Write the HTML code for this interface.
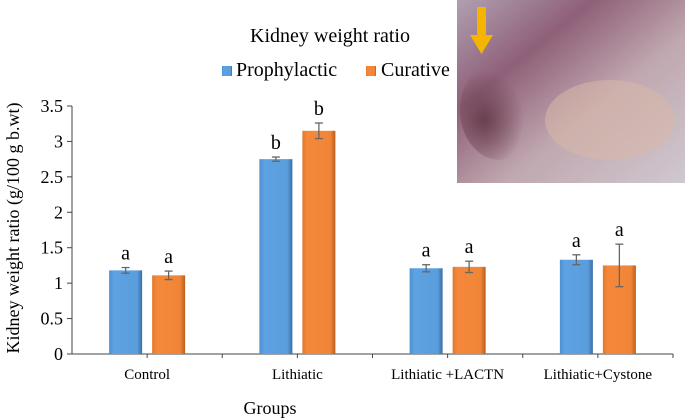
<!DOCTYPE html>
<html><head><meta charset="utf-8"><style>
html,body{margin:0;padding:0;background:#fff;}
svg{display:block;font-family:"Liberation Serif",serif;}
</style></head><body>
<svg width="685" height="418" viewBox="0 0 685 418">
<defs>
<linearGradient id="gb" x1="0" x2="1"><stop offset="0" stop-color="#4f8fcf"/><stop offset="0.15" stop-color="#5da2e2"/><stop offset="0.85" stop-color="#5a9ddc"/><stop offset="1" stop-color="#3a6fa5"/></linearGradient>
<linearGradient id="go" x1="0" x2="1"><stop offset="0" stop-color="#e07a2e"/><stop offset="0.15" stop-color="#f5883a"/><stop offset="0.85" stop-color="#f08538"/><stop offset="1" stop-color="#b85e1e"/></linearGradient>
<linearGradient id="photo" x1="0" y1="0" x2="1" y2="1"><stop offset="0" stop-color="#b0a0b0"/><stop offset="0.3" stop-color="#8f6078"/><stop offset="0.6" stop-color="#c0a8b0"/><stop offset="1" stop-color="#d0c8d0"/></linearGradient>
<radialGradient id="organ" cx="0.3" cy="0.6" r="0.5"><stop offset="0" stop-color="#6a4050"/><stop offset="1" stop-color="#6a4050" stop-opacity="0"/></radialGradient>
</defs>
<g>
<rect x="457" y="0" width="228" height="183" fill="url(#photo)"/>
<ellipse cx="500" cy="110" rx="40" ry="50" fill="url(#organ)"/>
<ellipse cx="610" cy="120" rx="65" ry="40" fill="#d8b8a8" opacity="0.55"/>
<rect x="477" y="7" width="9" height="30" fill="#f5b400"/>
<polygon points="470,35 493,35 481.5,54" fill="#f5b400"/>
</g>
<text x="330" y="42" font-size="20" text-anchor="middle">Kidney weight ratio</text>
<g>
<rect x="222" y="66" width="10" height="10" fill="url(#gb)"/>
<text x="236" y="76" font-size="20">Prophylactic</text>
<rect x="366" y="66" width="10" height="10" fill="url(#go)"/>
<text x="381" y="76" font-size="20">Curative</text>
</g>
<text transform="translate(19,228) rotate(-90)" font-size="18" text-anchor="middle">Kidney weight ratio (g/100 g b.wt)</text>
<text x="270" y="414" font-size="18" text-anchor="middle">Groups</text>
<g id="axes"></g>
<g id="bars"></g>
</svg>
<script>
const categories = ["Control","Lithiatic","Lithiatic +LACTN","Lithiatic+Cystone"];
const prophylactic = [1.18, 2.75, 1.21, 1.33];
const prophylacticErr = [0.04, 0.03, 0.05, 0.07];
const curative = [1.11, 3.15, 1.23, 1.25];
const curativeErr = [0.06, 0.11, 0.08, 0.30];
const prophLetters = ["a","b","a","a"];
const curLetters = ["a","b","a","a"];
const yTicks = ["0","0.5","1","1.5","2","2.5","3","3.5"];

const NS="http://www.w3.org/2000/svg";
const X0=72, X1=673, Y0=354, Y35=106;
const y = v => Y0 - (v/3.5)*(Y0-Y35);
const step=(X1-X0)/categories.length;
const cx = i => X0 + step*(i+0.5);
function mk(tag, attrs, parent){const e=document.createElementNS(NS,tag);for(const k in attrs)e.setAttribute(k,attrs[k]);parent.appendChild(e);return e;}
const axes=document.getElementById('axes'), bars=document.getElementById('bars');
let a=mk('line',{x1:X0,y1:Y35,x2:X0,y2:Y0,stroke:'#444','stroke-width':1},axes);


a=mk('line',{x1:X0,y1:Y0,x2:X1,y2:Y0,stroke:'#444','stroke-width':1},axes);


yTicks.forEach(t=>{
  const yy=y(parseFloat(t));
  mk('line',{x1:X0-5,y1:yy,x2:X0,y2:yy,stroke:'#444'},axes);
  const tx=mk('text',{x:X0-9,y:yy+6,'font-size':18,'text-anchor':'end'},axes);
  tx.textContent=t;
  
  
});
categories.forEach((c,i)=>{
  const c0=cx(i);
  mk('line',{x1:c0,y1:Y0,x2:c0,y2:Y0+4,stroke:'#444'},axes);
  mk('line',{x1:X0+step*(i+1),y1:Y0,x2:X0+step*(i+1),y2:Y0+4,stroke:'#444'},axes);
  const tx=mk('text',{x:c0,y:Y0+25,'font-size':15,'text-anchor':'middle'},axes);
  tx.textContent=c;
  
  
  [[prophylactic,prophylacticErr,prophLetters,'url(#gb)',-38,'prophylactic'],[curative,curativeErr,curLetters,'url(#go)',5,'curative']].forEach(s=>{
    const v=s[0][i], e=s[1][i], bx=c0+s[4], w=33;
    const r=mk('rect',{x:bx,y:y(v),width:w,height:Y0-y(v),fill:s[3]},bars);
    
    
    const m=bx+w/2;
    mk('line',{x1:m,y1:y(v+e),x2:m,y2:y(v-e),stroke:'#666','stroke-width':1.3},bars);
    mk('line',{x1:m-4,y1:y(v+e),x2:m+4,y2:y(v+e),stroke:'#666','stroke-width':1.3},bars);
    mk('line',{x1:m-4,y1:y(v-e),x2:m+4,y2:y(v-e),stroke:'#666','stroke-width':1.3},bars);
    const l=mk('text',{x:m,y:y(v+e)-8,'font-size':20,'text-anchor':'middle'},bars);
    l.textContent=s[2][i];
    
    
  });
});
</script>
</body></html>
